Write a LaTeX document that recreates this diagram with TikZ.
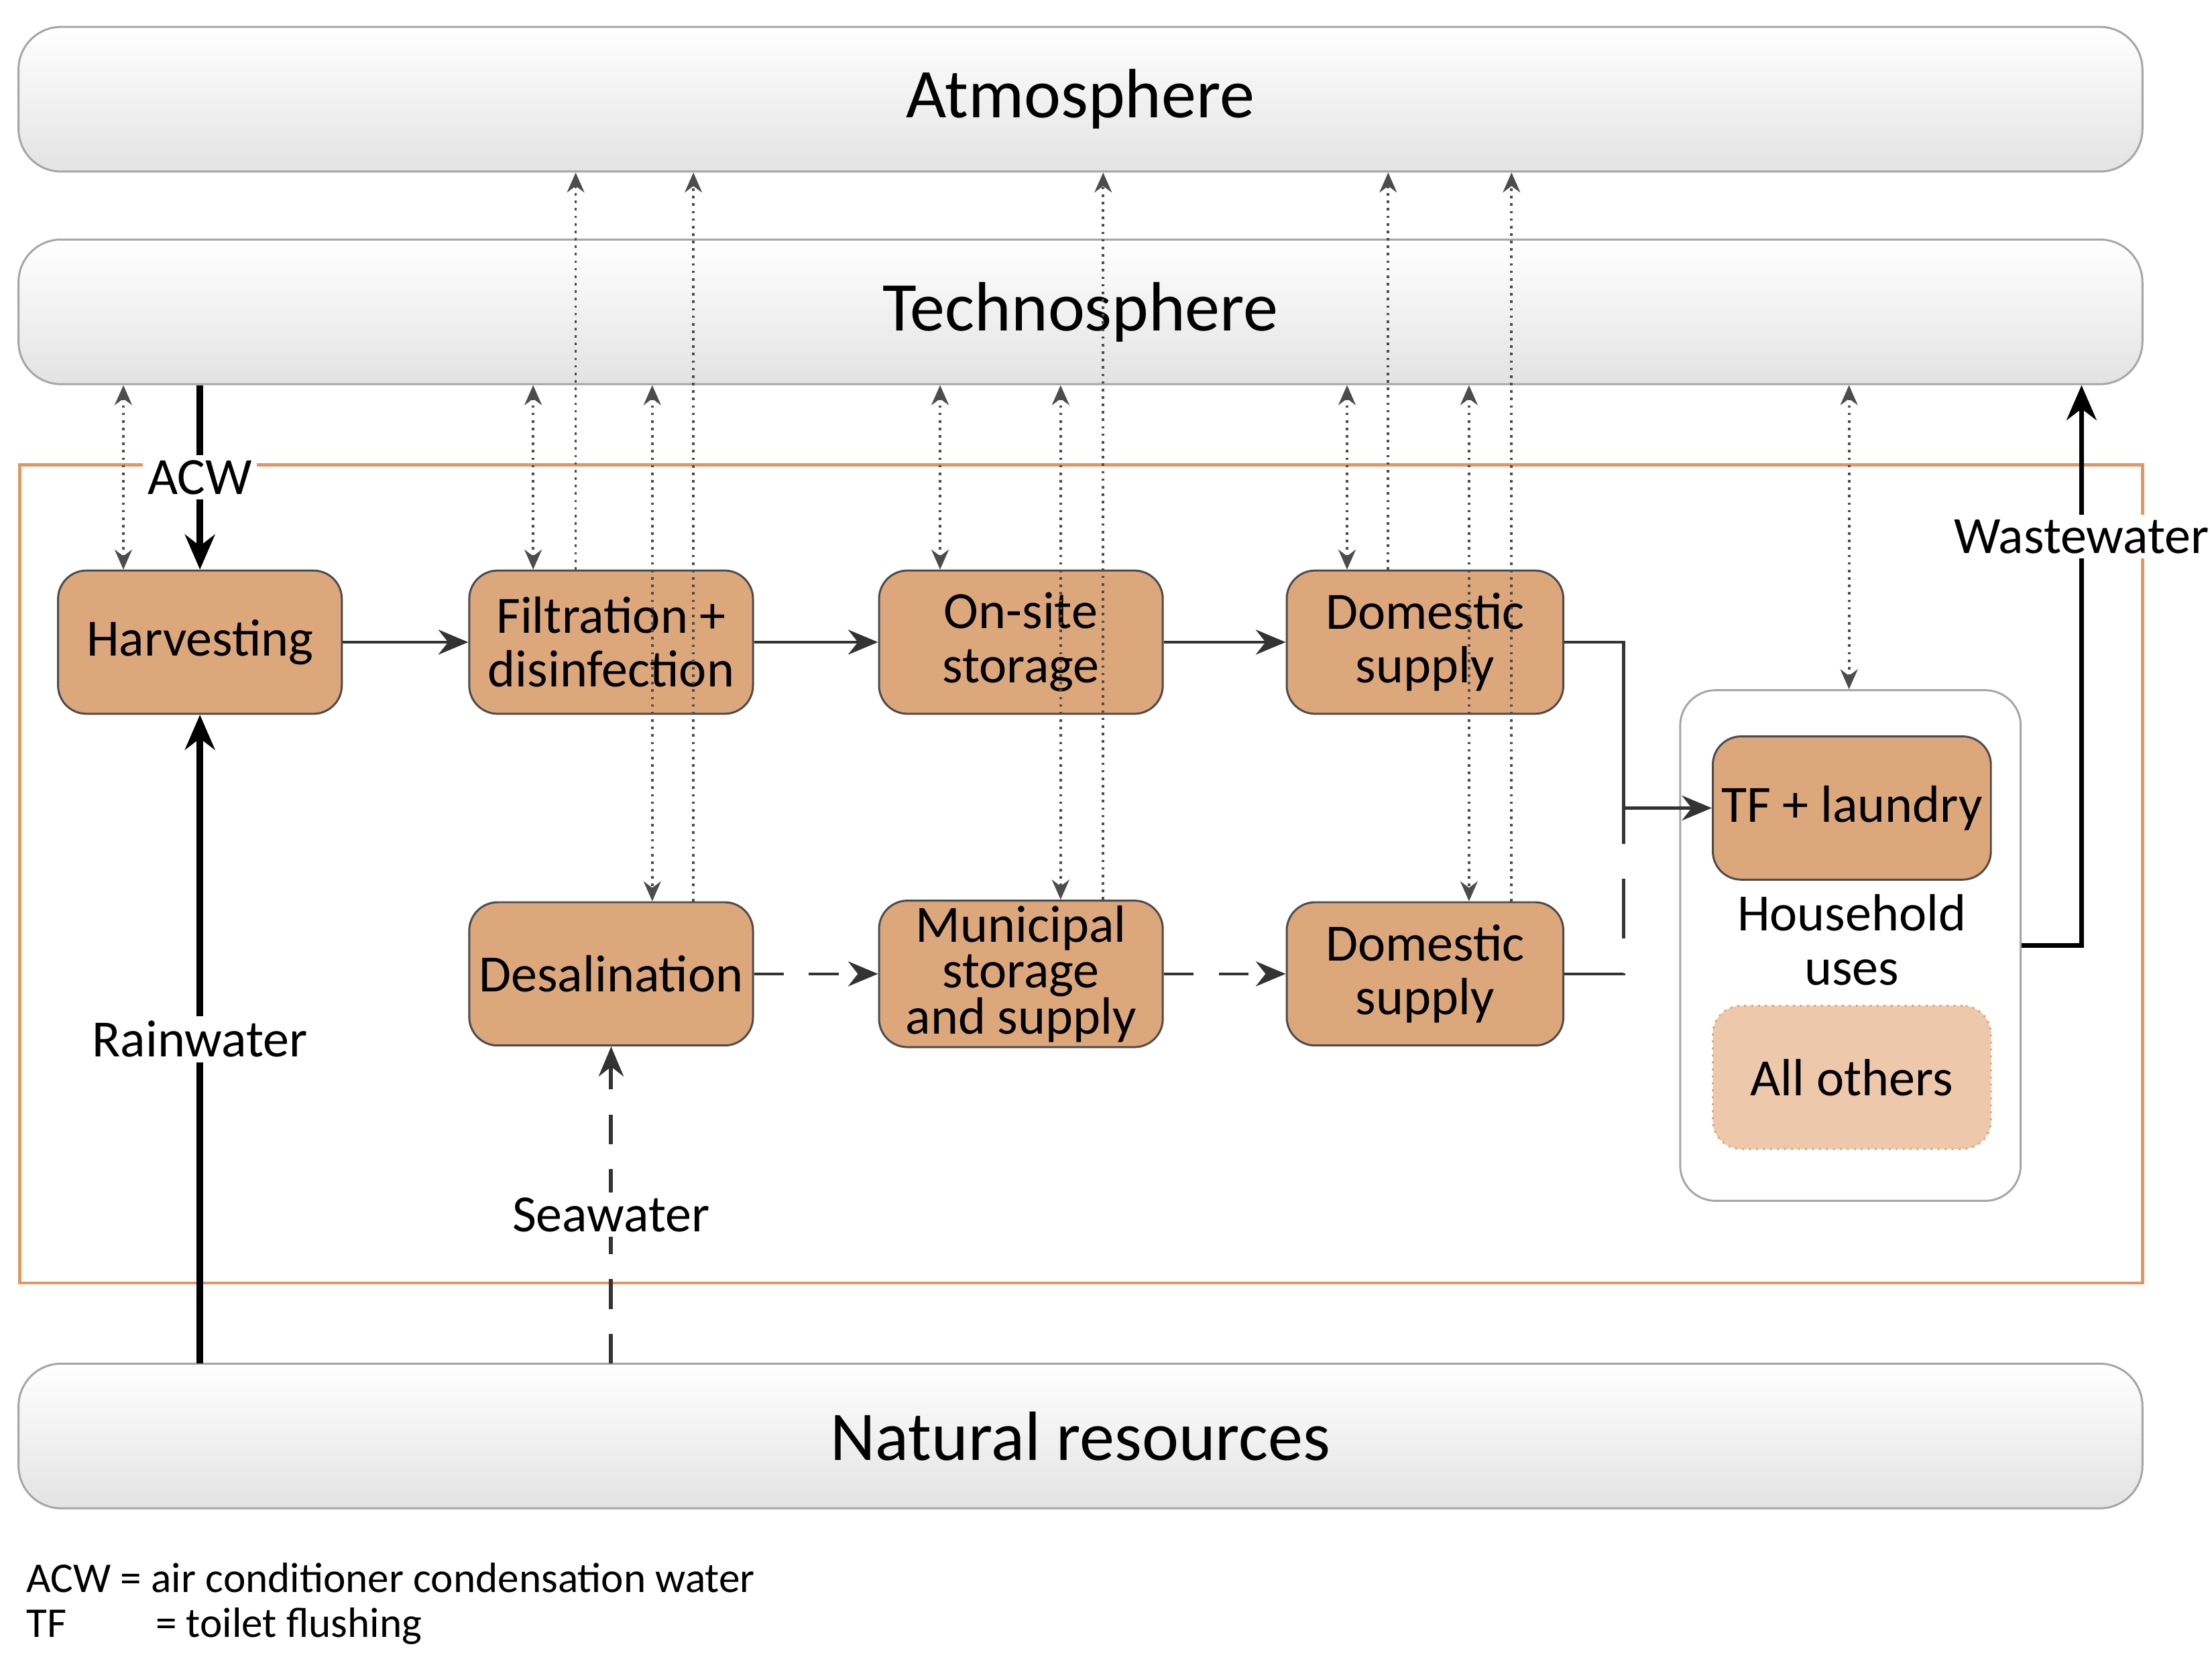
\documentclass[tikz,border=0pt]{standalone}
\usepackage{fontspec}
\setmainfont{Carlito}
\usetikzlibrary{arrows.meta}
\definecolor{nodeor}{RGB}{221,167,124}
\definecolor{lightor}{RGB}{238,200,170}
\definecolor{frameor}{RGB}{226,150,100}
\begin{document}
\begin{tikzpicture}[x=0.01cm,y=-0.01cm,
  sphere/.style={rounded corners=0.3cm,draw=gray!70,top color=white,bottom color=gray!22,minimum width=14.97cm,minimum height=1.02cm,font=\fontsize{14}{16}\selectfont},
  proc/.style={rounded corners=0.2cm,draw=gray!60!black,fill=nodeor,minimum width=2cm,minimum height=1.01cm,inner sep=1pt,align=center,font=\fontsize{10.5}{10.8}\selectfont},
  lab/.style={fill=white,inner sep=1pt,font=\fontsize{10.5}{12}\selectfont},
  flow/.style={-{Stealth[length=6pt,width=5pt]},line width=0.6pt,draw=black!80},
  thick flow/.style={-{Stealth[length=7pt,width=6pt]},line width=1.3pt},
  dflow/.style={-{Stealth[length=6pt,width=5pt]},line width=0.6pt,dash pattern=on 6pt off 5pt,draw=black!80},
  dotdbl/.style={{Stealth[length=4pt,width=3.5pt]}-{Stealth[length=4pt,width=3.5pt]},densely dotted,line width=0.5pt,draw=black!70},
  dotone/.style={-{Stealth[length=4pt,width=3.5pt]},densely dotted,line width=0.5pt,draw=black!70}]
\useasboundingbox (0,0) rectangle (1560,1166);
\node[sphere] (atm) at (762,70) {Atmosphere};
\node[sphere] (tech) at (762,220) {Technosphere};
\draw[frameor,line width=0.6pt] (14,328) rectangle (1511,905);
\node[sphere] (nat) at (762,1013) {Natural resources};
\node[rounded corners=0.25cm,draw=gray!70,fill=white,minimum width=2.4cm,minimum height=3.6cm] (hh) at (1305,667) {};
\node[proc] (harv) at (141,453) {Harvesting};
\node[proc] (filt) at (431,453) {Filtration +\\disinfection};
\node[proc] (ons) at (720,453) {On-site\\storage};
\node[proc,minimum width=1.95cm] (dom1) at (1005,453) {Domestic\\supply};
\node[proc] (desal) at (431,687) {Desalination};
\node[proc,font=\fontsize{10.5}{9.2}\selectfont] (muni) at (720,687) {Municipal\\storage\\and supply};
\node[proc,minimum width=1.95cm] (dom2) at (1005,687) {Domestic\\supply};
\node[proc,minimum width=1.96cm] (tf) at (1306,570) {TF + laundry};
\node[font=\fontsize{10.5}{11}\selectfont,align=center] (hu) at (1306,663) {Household\\uses};
\node[proc,minimum width=1.96cm,fill=lightor,draw=nodeor,densely dotted] (oth) at (1306,760) {All others};
% main flows
\draw[flow] (harv) -- (filt);
\draw[flow] (filt) -- (ons);
\draw[flow] (ons) -- (dom1);
\draw[flow] (dom1.east) -| (1145,570) -- (tf.west);
\draw[dflow] (desal) -- (muni);
\draw[dflow] (muni) -- (dom2);
\draw[line width=0.6pt,dash pattern=on 12pt off 7pt,draw=black!80] (dom2.east) -| (1145,570);
\coordinate (rw) at (141,962);
\coordinate (sw) at (431,962);
\draw[thick flow] (rw) -- node[lab,pos=0.5]{Rainwater} (harv.south);
\draw[dflow,line width=0.8pt] (sw) -- node[lab,pos=0.47]{Seawater} (desal.south);
\draw[thick flow] (tech.south -| harv) -- node[lab,pos=0.5]{ACW} (harv.north);
\coordinate (ww) at (1468,667);
\draw[thick flow,line width=1pt] (hh.east) -- (ww) -- node[lab,pos=0.73]{Wastewater} (tech.south -| ww);
% dotted double arrows
\foreach \x/\n in {87/harv,376/filt,663/ons,950/dom1}{
  \draw[dotdbl] (tech.south -| \x,0) -- (\n.north -| \x,0);}
\draw[dotdbl] (tech.south -| 1304,0) -- (hh.north -| 1304,0);
\foreach \x/\n in {460/desal,748/muni,1036/dom2}{
  \draw[dotdbl] (tech.south -| \x,0) -- (\n.north -| \x,0);}
% to atmosphere
\foreach \x/\n in {406/filt,489/desal,778/muni,979/dom1,1066/dom2}{
  \draw[dotone] (\n.north -| \x,0) -- (atm.south -| \x,0);}
% legend
\node[anchor=west,inner sep=0pt,font=\fontsize{8.5}{10}\selectfont] (l1) at (18,1113) {ACW = air conditioner condensation water};
\node[anchor=west,inner sep=0pt,font=\fontsize{8.5}{10}\selectfont] (l2) at (18,1147) {TF\hspace{2.1em}= toilet flushing};
\end{tikzpicture}
\end{document}
